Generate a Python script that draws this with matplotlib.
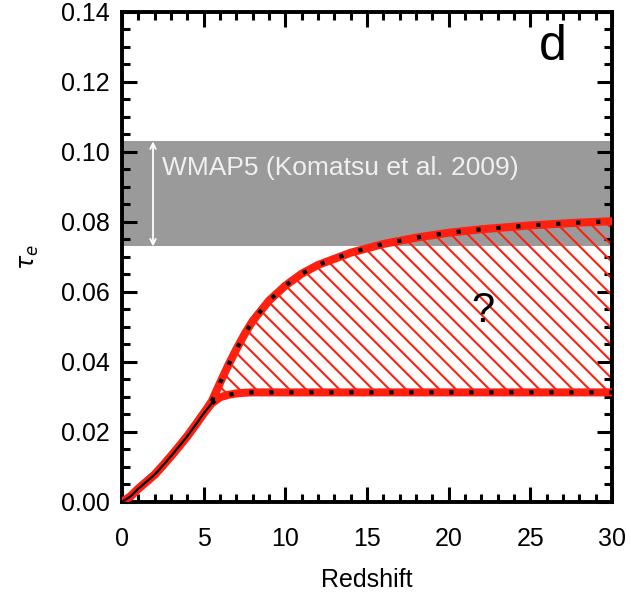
import numpy as np
import matplotlib.pyplot as plt
from matplotlib.ticker import MultipleLocator

plt.rcParams['font.family'] = ['Liberation Sans', 'DejaVu Sans']
plt.rcParams['hatch.color'] = '#ff2010'
plt.rcParams['hatch.linewidth'] = 1.5

# redshift grid and optical depth of the two bounding histories
z = [0, 0.5, 1, 1.5, 2, 2.5, 3, 3.5, 4, 4.5, 5, 5.5, 6, 6.5, 7, 7.5, 8, 9, 10,
     11, 12, 14, 16, 18, 20, 22, 25, 28, 30]
tau_low = [0, 0.0015, 0.0038, 0.0058, 0.0078, 0.0104, 0.0131, 0.0159, 0.0188,
           0.0220, 0.0253, 0.0282, 0.0299, 0.0306, 0.0310, 0.0312, 0.0313,
           0.0313, 0.0313, 0.0313, 0.0313, 0.0313, 0.0313, 0.0313, 0.0313,
           0.0313, 0.0313, 0.0313, 0.0313]
tau_up = [0, 0.0015, 0.0038, 0.0058, 0.0078, 0.0104, 0.0131, 0.0159, 0.0188,
          0.0220, 0.0253, 0.0288, 0.0340, 0.0390, 0.0436, 0.0479, 0.0517,
          0.0575, 0.0618, 0.0652, 0.0677, 0.0712, 0.0737, 0.0755, 0.0769,
          0.0779, 0.0790, 0.0798, 0.0802]
z_common = 5.5

# WMAP5 band
wmap_lo = 0.073
wmap_hi = 0.103

fig = plt.figure(figsize=(6.31, 5.93), dpi=100)
ax = fig.add_axes([0.1933, 0.1535, 0.7767, 0.8265])

ax.axhspan(wmap_lo, wmap_hi, color='#9a9a9a', lw=0, zorder=0)
ax.annotate('', xy=(1.9, wmap_hi), xytext=(1.9, wmap_lo),
            arrowprops=dict(arrowstyle='<->', color='white', lw=1.3,
                            mutation_scale=10, shrinkA=0, shrinkB=0))
ax.text(2.45, 0.0955, 'WMAP5 (Komatsu et al. 2009)', color='#f0f0f0',
        fontsize=19, va='center', ha='left')

ax.fill_between(z, tau_low, tau_up, facecolor='none', hatch='\\\\',
                edgecolor='#ff2010', lw=0, zorder=2)

red = '#ff2010'
ax.plot(z, tau_low, color=red, lw=5.8, solid_capstyle='butt', zorder=3)
ax.plot(z, tau_up, color=red, lw=5.8, solid_capstyle='butt', zorder=3)

zz = np.array(z)
m = zz <= z_common
ax.plot(zz[m], np.array(tau_low)[m], color='black', lw=1.6, zorder=4)
m2 = zz >= z_common
ax.plot(zz[m2], np.array(tau_low)[m2], color='black', lw=3,
        dashes=(1, 3.8), zorder=4)
ax.plot(zz[m2], np.array(tau_up)[m2], color='black', lw=3,
        dashes=(1, 3.8), zorder=4)

ax.text(22.1, 0.0545, '?', fontsize=30, ha='center', va='center')
ax.text(26.4, 0.130, 'd', fontsize=36, ha='center', va='center')

ax.set_xlim(0, 30)
ax.set_ylim(0, 0.14)
ax.xaxis.set_major_locator(MultipleLocator(5))
ax.xaxis.set_minor_locator(MultipleLocator(1))
ax.yaxis.set_major_locator(MultipleLocator(0.02))
ax.yaxis.set_minor_locator(MultipleLocator(0.005))
ax.yaxis.set_major_formatter(plt.FormatStrFormatter('%.2f'))
ax.tick_params(which='both', direction='in', top=True, right=True,
               labelsize=18, width=2.2)
ax.tick_params(which='major', length=11)
ax.tick_params(axis='x', which='major', pad=18)
ax.tick_params(axis='y', which='major', pad=9)
ax.tick_params(which='minor', length=5.5)
for s in ax.spines.values():
    s.set_linewidth(2.8)

ax.set_xlabel('Redshift', fontsize=18, labelpad=12)
ax.set_ylabel(r'$\tau_e$', fontsize=17)
ax.yaxis.set_label_coords(-0.165, 0.5)

plt.savefig('out.png', dpi=100)
